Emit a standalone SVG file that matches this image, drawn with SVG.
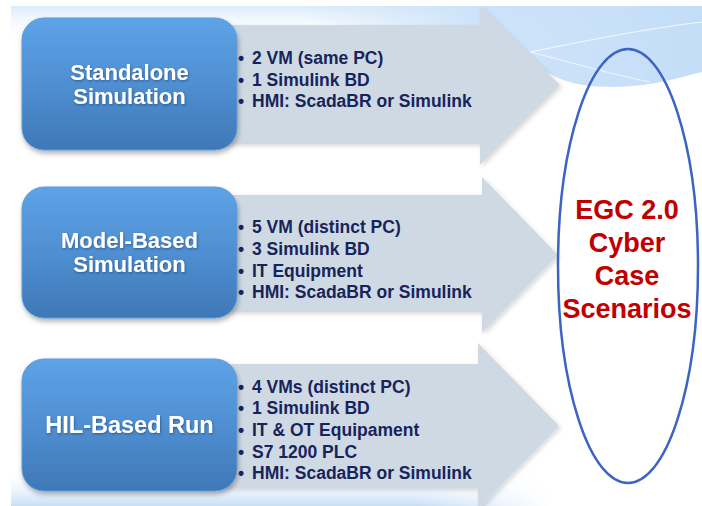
<svg xmlns="http://www.w3.org/2000/svg" width="702" height="506" viewBox="0 0 702 506">
<defs>
<linearGradient id="skyV" x1="0" y1="0" x2="0" y2="1">
<stop offset="0" stop-color="#dcecfb"/>
<stop offset="1" stop-color="#ffffff" stop-opacity="0"/>
</linearGradient>
<linearGradient id="skyR" x1="0" y1="0" x2="1" y2="0">
<stop offset="0" stop-color="#c9e1f9" stop-opacity="0"/>
<stop offset="0.45" stop-color="#c9e1f9" stop-opacity="0.9"/>
<stop offset="1" stop-color="#c4ddf7"/>
</linearGradient>
<linearGradient id="botV" x1="0" y1="0" x2="0" y2="1">
<stop offset="0" stop-color="#ffffff" stop-opacity="0"/>
<stop offset="1" stop-color="#c7def7"/>
</linearGradient>
<linearGradient id="botH" x1="0" y1="0" x2="1" y2="0">
<stop offset="0" stop-color="#ffffff" stop-opacity="0"/>
<stop offset="0.75" stop-color="#ffffff" stop-opacity="0"/>
<stop offset="1" stop-color="#ffffff"/>
</linearGradient>
<linearGradient id="boxG" x1="0" y1="0" x2="0" y2="1">
<stop offset="0" stop-color="#5da3e6"/>
<stop offset="0.5" stop-color="#4f8fd2"/>
<stop offset="1" stop-color="#3f78b7"/>
</linearGradient>
<filter id="sh" x="-10%" y="-10%" width="125%" height="130%">
<feDropShadow dx="1" dy="3" stdDeviation="2.5" flood-color="#000" flood-opacity="0.3"/>
</filter>
<filter id="ash" x="-5%" y="-5%" width="115%" height="115%">
<feDropShadow dx="2" dy="2" stdDeviation="2" flood-color="#000" flood-opacity="0.15"/>
</filter>
<filter id="tsh" x="-5%" y="-20%" width="110%" height="150%">
<feDropShadow dx="0.8" dy="1.2" stdDeviation="0.8" flood-color="#1b3a66" flood-opacity="0.6"/>
</filter>
</defs>
<style>
.box{fill:url(#boxG);stroke:#5b9be0;stroke-width:1;filter:url(#sh)}
.arrow{fill:#cfd9e4;filter:url(#ash)}
.bt{font-family:"Liberation Sans",Arial,sans-serif;font-weight:bold;font-size:22px;fill:#ffffff;text-anchor:middle;filter:url(#tsh)}
.bt1{font-size:23.5px}
.li{font-family:"Liberation Sans",Arial,sans-serif;font-weight:bold;font-size:17.5px;fill:#17245a}
.eg{font-family:"Liberation Sans",Arial,sans-serif;font-weight:bold;font-size:27px;fill:#c00000;text-anchor:middle}
</style>
<rect width="702" height="506" fill="#ffffff"/>
<g id="background">
<rect x="11" y="6" width="691" height="36" fill="url(#skyV)"/>
<path d="M300,6 H702 V72 C670,80 640,90 590,86 C555,82 535,66 520,52 C470,40 400,30 300,20 Z" fill="url(#skyR)"/>
<path d="M530,52 C590,40 650,28 702,22" fill="none" stroke="#ffffff" stroke-width="1" stroke-opacity="0.8"/>
<path d="M530,52 C570,62 610,74 650,82" fill="none" stroke="#ffffff" stroke-width="1" stroke-opacity="0.7"/>
<rect x="11" y="470" width="540" height="36" fill="url(#botV)"/>
<rect x="11" y="470" width="540" height="36" fill="url(#botH)"/>
</g>
<g id="connectors">
<path class="arrow" d="M200,25 H480 V6 L560,85 L480,165 V144 H200 Z"/>
<path class="arrow" d="M200,195 H482 V177 L558,255 L482,333 V312 H200 Z"/>
<path class="arrow" d="M200,364 H478 V343 L559,426 L478,509 V488 H200 Z"/>
</g>
<g id="standalone">
<rect class="box" x="22" y="18" width="215" height="132" rx="22"/>
<text class="bt" x="129.5" y="79.5">Standalone</text>
<text class="bt" x="129.5" y="104">Simulation</text>
<text class="li" x="238" y="64">•</text><text class="li" x="252" y="64">2 VM (same PC)</text>
<text class="li" x="238" y="86">•</text><text class="li" x="252" y="86">1 Simulink BD</text>
<text class="li" x="238" y="107">•</text><text class="li" x="252" y="107">HMI: ScadaBR or Simulink</text>
</g>
<g id="model-based">
<rect class="box" x="22" y="187" width="215" height="131" rx="22"/>
<text class="bt" x="129.5" y="247.5">Model-Based</text>
<text class="bt" x="129.5" y="272">Simulation</text>
<text class="li" x="238" y="233">•</text><text class="li" x="252" y="233">5 VM (distinct PC)</text>
<text class="li" x="238" y="255">•</text><text class="li" x="252" y="255">3 Simulink BD</text>
<text class="li" x="238" y="277">•</text><text class="li" x="252" y="277">IT Equipment</text>
<text class="li" x="238" y="298">•</text><text class="li" x="252" y="298">HMI: ScadaBR or Simulink</text>
</g>
<g id="hil-based">
<rect class="box" x="22" y="359" width="215" height="132" rx="22"/>
<text class="bt bt1" x="129.5" y="433">HIL-Based Run</text>
<text class="li" x="238" y="393">•</text><text class="li" x="252" y="393">4 VMs (distinct PC)</text>
<text class="li" x="238" y="414">•</text><text class="li" x="252" y="414">1 Simulink BD</text>
<text class="li" x="238" y="436">•</text><text class="li" x="252" y="436">IT &amp; OT Equipament</text>
<text class="li" x="238" y="458">•</text><text class="li" x="252" y="458">S7 1200 PLC</text>
<text class="li" x="238" y="479">•</text><text class="li" x="252" y="479">HMI: ScadaBR or Simulink</text>
</g>
<g id="egc">
<ellipse cx="628" cy="266" rx="70" ry="217" fill="none" stroke="#3b64c4" stroke-width="2.5"/>
<text class="eg" x="627" y="219">EGC 2.0</text>
<text class="eg" x="627" y="252">Cyber</text>
<text class="eg" x="627" y="285">Case</text>
<text class="eg" x="627" y="318">Scenarios</text>
</g>
</svg>
